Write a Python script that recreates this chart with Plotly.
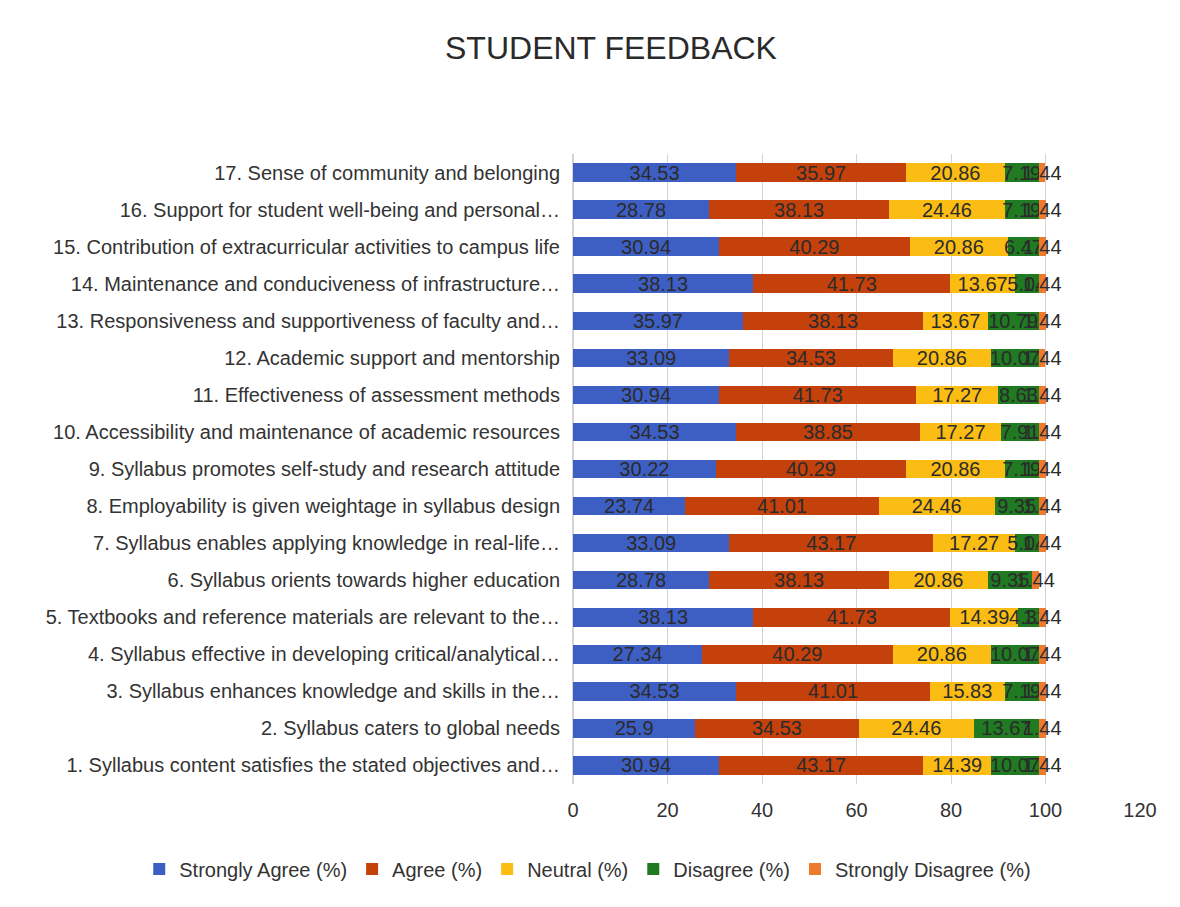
import plotly.graph_objects as go

categories = [
    "1. Syllabus content satisfies the stated objectives and…",
    "2. Syllabus caters to global needs",
    "3. Syllabus enhances knowledge and skills in the…",
    "4. Syllabus effective in developing critical/analytical…",
    "5. Textbooks and reference materials are relevant to the…",
    "6. Syllabus orients towards higher education",
    "7. Syllabus enables applying knowledge in real-life…",
    "8. Employability is given weightage in syllabus design",
    "9. Syllabus promotes self-study and research attitude",
    "10. Accessibility and maintenance of academic resources",
    "11. Effectiveness of assessment methods",
    "12. Academic support and mentorship",
    "13. Responsiveness and supportiveness of faculty and…",
    "14. Maintenance and conduciveness of infrastructure…",
    "15. Contribution of extracurricular activities to campus life",
    "16. Support for student well-being and personal…",
    "17. Sense of community and belonging",
]

strongly_agree = [30.94, 25.9, 34.53, 27.34, 38.13, 28.78, 33.09, 23.74, 30.22,
                  34.53, 30.94, 33.09, 35.97, 38.13, 30.94, 28.78, 34.53]
agree = [43.17, 34.53, 41.01, 40.29, 41.73, 38.13, 43.17, 41.01, 40.29,
         38.85, 41.73, 34.53, 38.13, 41.73, 40.29, 38.13, 35.97]
neutral = [14.39, 24.46, 15.83, 20.86, 14.39, 20.86, 17.27, 24.46, 20.86,
           17.27, 17.27, 20.86, 13.67, 13.67, 20.86, 24.46, 20.86]
disagree = [10.07, 13.67, 7.19, 10.07, 4.32, 9.35, 5.04, 9.35, 7.19,
            7.91, 8.63, 10.07, 10.79, 5.04, 6.47, 7.19, 7.19]
strongly_disagree = [1.44] * 17

series = [
    ("Strongly Agree (%)", strongly_agree, "#3D5FC4"),
    ("Agree (%)", agree, "#C4410C"),
    ("Neutral (%)", neutral, "#FBBD14"),
    ("Disagree (%)", disagree, "#1F7A22"),
    ("Strongly Disagree (%)", strongly_disagree, "#EE7A2E"),
]

font_family = "Liberation Sans Narrow, Arial Narrow, Liberation Sans, Arial, sans-serif"

fig = go.Figure()
for name, vals, color in series:
    fig.add_trace(
        go.Bar(
            y=categories,
            x=vals,
            name=name,
            orientation="h",
            marker=dict(color=color, line=dict(width=0)),
            text=[f"{v:g}" for v in vals],
            textposition="inside",
            insidetextanchor="middle",
            textangle=0,
            constraintext="none",
            cliponaxis=False,
            textfont=dict(color="#2b2b2b", size=20, family=font_family),
        )
    )

fig.update_layout(
    barmode="stack",
    bargap=0.5,
    width=1180,
    height=907,
    paper_bgcolor="white",
    plot_bgcolor="white",
    font=dict(family=font_family, color="#333333", size=20),
    title=dict(text="STUDENT FEEDBACK", x=0.511, xanchor="center", y=1 - 40 / 907,
               yanchor="middle", font=dict(size=32, color="#2a2a2a", family=font_family)),
    margin=dict(l=565, r=48, t=146, b=131),
    uniformtext=dict(minsize=20, mode="show"),
    # below and left of the plot area so the legend may use the full width on one line
    legend=dict(orientation="h", x=-0.765, xanchor="left",
                y=-0.104, yanchor="top",
                font=dict(size=20, color="#333333"), traceorder="normal",
                itemwidth=30),
)
fig.update_xaxes(range=[0, 120], dtick=20, showgrid=True, gridcolor="#d4d4d4",
                 zeroline=True, zerolinecolor="#d4d4d4", ticks="", tickfont=dict(size=20),
                 ticklabelstandoff=12)
fig.update_yaxes(showgrid=False, ticks="", tickfont=dict(size=20, color="#333333"),
                 ticklabelstandoff=12)

fig.write_html("out.html")
